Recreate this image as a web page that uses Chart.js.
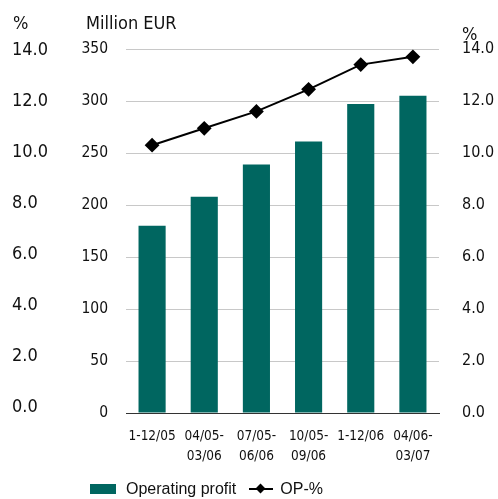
<!DOCTYPE html>
<html>
<head>
<meta charset="utf-8">
<script src="https://cdn.jsdelivr.net/npm/chart.js@4"></script>
<style>
  html, body { margin: 0; padding: 0; background: #fff; }
  #wrap { position: relative; width: 498px; height: 499px; }
  #legend { position: absolute; left: 90px; top: 479px; font: 16px "Liberation Sans", Arial, sans-serif; color: #111; white-space: nowrap; }
  #legend span { display: inline-block; vertical-align: middle; }
  .box { width: 26px; height: 10px; margin-right: 10px; }
  .lineIcon { position: relative; width: 24px; height: 16px; margin: 0 7px 0 13px; }
  .lineIcon i { position: absolute; left: 0; right: 0; top: 7px; height: 2px; background: #000; }
  .lineIcon b { position: absolute; left: 8px; top: 4px; width: 7px; height: 7px; background: #000; transform: rotate(45deg); }
</style>
</head>
<body>
<div id="wrap">
  <canvas id="opChart" width="498" height="499"></canvas>
  <div id="legend"></div>
</div>
<script>
/*----------------------------------------------------------------*/
const categories = [['1-12/05'], ['04/05-', '03/06'], ['07/05-', '06/06'], ['10/05-', '09/06'], ['1-12/06'], ['04/06-', '03/07']];
const operatingProfit = [180, 208, 239, 261, 297, 305];
const opPercent = [10.3, 10.95, 11.6, 12.45, 13.4, 13.7];
const eurTicks = [0, 50, 100, 150, 200, 250, 300, 350];
const pctTicks = [0, 2, 4, 6, 8, 10, 12, 14];

const barColor = 'rgba(0, 102, 96, 1)';
const narrow = '"DejaVu Sans Condensed", "Liberation Sans Narrow", sans-serif';

// axis headers: "%", "Million EUR", "%"
const axisHeaders = {
    id: 'axisHeaders',
    afterDraw(chart) {
        const { ctx } = chart;
        ctx.save();
        ctx.fillStyle = '#111';
        ctx.textBaseline = 'alphabetic';
        ctx.textAlign = 'left';
        ctx.font = '18px ' + narrow;
        ctx.fillText('%', 13, 29);
        ctx.fillText('Million EUR', 86, 29);
        ctx.fillText('%', 462, 40);
        ctx.restore();
    }
};

new Chart(document.getElementById('opChart'), {
    type: 'bar',
    data: {
        labels: categories,
        datasets: [
            {
                label: 'OP-%',
                type: 'line',
                data: opPercent,
                yAxisID: 'pctR',
                borderColor: '#000',
                backgroundColor: '#000',
                borderWidth: 2,
                pointStyle: 'rectRot',
                pointRadius: 6,
                pointHoverRadius: 6,
                tension: 0,
                order: 0
            },
            {
                label: 'Operating profit',
                data: operatingProfit,
                yAxisID: 'y',
                backgroundColor: barColor,
                borderWidth: 0,
                barPercentage: 0.52,
                categoryPercentage: 1,
                order: 1
            }
        ]
    },
    options: {
        responsive: false,
        animation: false,
        layout: {
            padding: { left: 12, right: 0, top: 49, bottom: 0 }
        },
        plugins: {
            legend: { display: false },
            tooltip: { enabled: false }
        },
        scales: {
            x: {
                grid: { display: false, drawTicks: false },
                border: { color: '#333', width: 1 },
                ticks: {
                    color: '#111',
                    padding: 14,
                    maxRotation: 0,
                    autoSkip: false,
                    font: { family: narrow, size: 13.5, lineHeight: 1.45 }
                },
                afterFit(scale) { scale.height = 86; }
            },
            pctL: {
                position: 'left',
                weight: 2,
                min: -0.24,
                max: 14.04,
                grid: { display: false, drawTicks: false },
                border: { display: false },
                afterBuildTicks(scale) { scale.ticks = pctTicks.map(v => ({ value: v })); },
                ticks: {
                    color: '#111',
                    padding: 0,
                    crossAlign: 'far',
                    font: { family: narrow, size: 18 },
                    callback: v => Number(v).toFixed(1)
                },
                afterFit(scale) { scale.width = 56; }
            },
            y: {
                position: 'left',
                weight: 1,
                min: 0,
                max: 350,
                grid: { color: '#c8c8c8', lineWidth: 1, drawTicks: false },
                border: { display: false },
                afterBuildTicks(scale) { scale.ticks = eurTicks.map(v => ({ value: v })); },
                ticks: {
                    color: '#111',
                    padding: 18,
                    font: { family: narrow, size: 15.5 }
                },
                afterFit(scale) { scale.width = 58; }
            },
            pctR: {
                position: 'right',
                min: 0,
                max: 14,
                grid: { display: false, drawTicks: false },
                border: { display: false },
                afterBuildTicks(scale) { scale.ticks = pctTicks.map(v => ({ value: v })); },
                ticks: {
                    color: '#111',
                    padding: 23,
                    font: { family: narrow, size: 16 },
                    callback: v => Number(v).toFixed(1)
                },
                afterFit(scale) { scale.width = 59; }
            }
        }
    },
    plugins: [axisHeaders]
});

/*----------------------------------------------------------------*/
// legend drawn as html below the plot
document.getElementById('legend').innerHTML =
    '<span class="box" style="background:' + barColor + '"></span>' +
    '<span>Operating profit</span>' +
    '<span class="lineIcon"><i></i><b></b></span>' +
    '<span>OP-%</span>';
</script>
</body>
</html>
